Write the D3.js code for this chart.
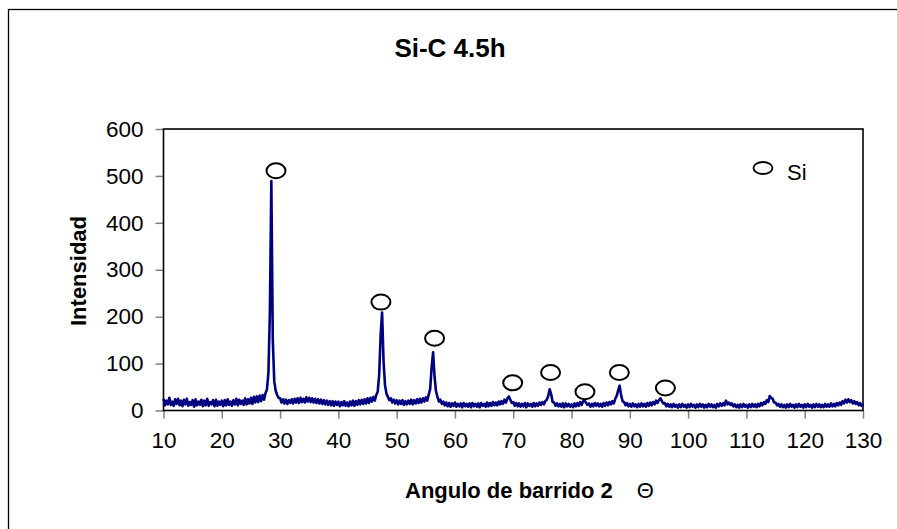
<!DOCTYPE html>
<html>
<head>
<meta charset="utf-8">
<script src="https://cdn.jsdelivr.net/npm/d3@7/dist/d3.min.js"></script>
<style>
  html, body { margin: 0; padding: 0; background: #fff; }
  svg { display: block; font-family: "Liberation Sans", Arial, Helvetica, sans-serif; }
</style>
</head>
<body>
<svg id="chart" width="897" height="529"></svg>
<script>
// XRD pattern, Si-C milled 4.5 h: intensity sampled every 0.25 deg from 10 to 130 deg (2θ)
const angleStart = 10;
const angleStep = 0.25;
const intensity = [
  25, 11, 21, 13,  27, 12, 19, 10,  24, 14, 25, 11,  21, 9, 23, 13,   // 10-13
  25, 10, 18, 12,  22, 8, 24, 11,   19, 12, 23, 9,   21, 11, 25, 10,  // 14-17
  18, 13, 22, 9,   23, 10, 19, 12,  21, 9, 22, 11,   24, 12, 19, 10,  // 18-21
  22, 13, 25, 11,  23, 14, 21, 12,  26, 13, 24, 15,  27, 14, 29, 17,  // 22-25
  30, 18, 32, 20,  33, 23, 37, 45,  80, 210, 489, 150, 62, 42, 33, 27, // 26-29
  26, 17, 24, 15,  23, 14, 22, 16,  24, 15, 25, 17,  26, 16, 27, 18,  // 30-33
  25, 17, 28, 19,  27, 18, 26, 17,  25, 16, 24, 15,  23, 14, 22, 13,  // 34-37
  21, 12, 20, 11,  20, 10, 19, 12,  19, 9, 18, 11,   20, 10, 17, 9,   // 38-41
  19, 11, 21, 10,  20, 12, 22, 13,  23, 14, 24, 15,  26, 16, 27, 19,  // 42-45
  29, 21, 33, 40,  76, 160, 209, 105, 54, 36, 29, 22, 26, 17, 23, 15, // 46-49
  22, 13, 21, 14,  22, 12, 20, 13,  21, 14, 23, 13,  22, 15, 24, 16,  // 50-53
  25, 17, 26, 19,  28, 21, 34, 46,  92, 124, 72, 41, 29, 19, 23, 14,  // 54-57
  19, 11, 17, 9,   16, 8, 15, 10,   17, 8, 14, 9,    15, 7, 16, 9,    // 58-61
  14, 8, 15, 7,    16, 9, 14, 8,    15, 7, 16, 10,   14, 8, 17, 9,    // 62-65
  16, 10, 18, 11,  17, 11, 19, 13,  20, 14, 23, 17,  26, 30, 23, 16,  // 66-69
  18, 10, 16, 9,   15, 8, 14, 9,    16, 7, 15, 10,   14, 8, 16, 9,    // 70-73
  15, 10, 17, 12,  18, 13, 20, 23,  31, 45, 35, 18,  17, 10, 15, 9,   // 74-77
  14, 8, 15, 7,    15, 9, 14, 8,    13, 7, 15, 9,    16, 10, 18, 12,  // 78-81
  20, 21, 16, 12,  15, 8, 14, 9,    16, 10, 15, 9,   14, 8, 16, 10,   // 82-85
  17, 11, 18, 13,  20, 15, 25, 31,  43, 53, 33, 20,  18, 11, 16, 9,   // 86-89
  14, 8, 15, 9,    13, 7, 14, 8,    15, 9, 14, 8,    16, 10, 17, 11,  // 90-93
  18, 13, 21, 16,  22, 26, 20, 15,  16, 9, 14, 8,    13, 7, 14, 8,    // 94-97
  12, 6, 13, 7,    14, 8, 12, 6,    13, 7, 14, 8,    12, 6, 13, 7,    // 98-101
  14, 8, 13, 6,    12, 7, 14, 8,    13, 7, 12, 6,    14, 9, 15, 10,   // 102-105
  16, 11, 21, 13,  17, 12, 15, 9,   13, 7, 12, 6,    13, 7, 14, 8,    // 106-109
  12, 6, 13, 7,    14, 8, 13, 7,    14, 9, 16, 11,   18, 14, 22, 18,  // 110-113
  31, 26, 25, 17,  17, 11, 14, 8,   13, 7, 12, 6,    13, 7, 14, 8,    // 114-117
  12, 6, 13, 7,    14, 8, 12, 6,    13, 7, 14, 8,    12, 6, 13, 7,    // 118-121
  14, 8, 13, 7,    12, 7, 14, 8,    13, 8, 15, 9,    14, 9, 16, 11,   // 122-125
  17, 12, 20, 15,  23, 17, 24, 18,  22, 15, 20, 14,  18, 11, 16, 10,  // 126-129
  14                                                                   // 130
];

// Si reflections marked on the pattern
const siAngles = [29.3, 47.3, 56.5, 69.9, 76.4, 82.3, 88.2, 96.1];
const siLevels = [511, 231, 154, 59, 81, 40, 81, 48];

// Axis ticks
const xTicks = [10, 20, 30, 40, 50, 60, 70, 80, 90, 100, 110, 120, 130];
const yTicks = [0, 100, 200, 300, 400, 500, 600];

const title = "Si-C 4.5h";
const xTitle = "Angulo de barrido 2";
const xTitleSymbol = "Θ";
const yTitle = "Intensidad";
const legendLabel = "Si";

const svg = d3.select("#chart");
const W = 897, H = 529;
const plot = { left: 163.5, right: 863, top: 129, bottom: 410.5 };

const x = d3.scaleLinear().domain([10, 130]).range([plot.left, plot.right]);
const y = d3.scaleLinear().domain([0, 600]).range([plot.bottom, plot.top]);

// outer chart frame (runs off the right and bottom edges)
svg.append("rect")
  .attr("x", 8.5).attr("y", 9.5)
  .attr("width", W + 20).attr("height", H + 20)
  .attr("fill", "#fff").attr("stroke", "#000").attr("stroke-width", 1.3);

// title
svg.append("text")
  .attr("x", 450).attr("y", 57)
  .attr("text-anchor", "middle")
  .attr("font-size", 26).attr("font-weight", "bold")
  .text(title);

// axes
const xAxis = d3.axisBottom(x).tickValues(xTicks).tickSize(8).tickPadding(14).tickFormat(d3.format("d"));
const yAxis = d3.axisLeft(y).tickValues(yTicks).tickSize(8).tickPadding(12).tickFormat(d3.format("d"));

const gx = svg.append("g").attr("transform", `translate(0,${plot.bottom})`).call(xAxis);
const gy = svg.append("g").attr("transform", `translate(${plot.left},0)`).call(yAxis);
[gx, gy].forEach(g => {
  g.select(".domain").remove();
  g.selectAll(".tick line").attr("stroke", "#808080").attr("stroke-width", 1.5);
  g.selectAll(".tick text")
    .attr("font-size", 22.5)
    .attr("font-family", "\"Liberation Sans\", Arial, sans-serif")
    .attr("fill", "#000");
});

// plot-area border
svg.append("rect")
  .attr("x", plot.left).attr("y", plot.top)
  .attr("width", plot.right - plot.left).attr("height", plot.bottom - plot.top)
  .attr("fill", "none").attr("stroke", "#000").attr("stroke-width", 1.6);

// diffraction pattern
const pattern = intensity.map((v, i) => ({ angle: angleStart + i * angleStep, value: v }));
const line = d3.line().x(d => x(d.angle)).y(d => y(d.value));
svg.append("path")
  .datum(pattern)
  .attr("d", line)
  .attr("fill", "none")
  .attr("stroke", "#000080")
  .attr("stroke-width", 2.6)
  .attr("stroke-linejoin", "round");

// Si peak markers
const siPoints = siAngles.map((a, i) => ({ angle: a, value: siLevels[i] }));
svg.append("g").selectAll("ellipse")
  .data(siPoints)
  .enter().append("ellipse")
  .attr("cx", d => x(d.angle)).attr("cy", d => y(d.value))
  .attr("rx", 9.5).attr("ry", 7.5)
  .attr("fill", "#fff").attr("stroke", "#000").attr("stroke-width", 2);

// legend
const legendX = plot.left + (plot.right - plot.left) * 0.857;
const legendY = plot.top + 39;
svg.append("ellipse")
  .attr("cx", legendX).attr("cy", legendY)
  .attr("rx", 9.5).attr("ry", 6)
  .attr("fill", "#fff").attr("stroke", "#000").attr("stroke-width", 1.8);
svg.append("text")
  .attr("x", legendX + 24).attr("y", legendY + 12)
  .attr("font-size", 22)
  .text(legendLabel);

// axis titles
const xt = svg.append("text")
  .attr("x", 405).attr("y", 498)
  .attr("font-size", 22).attr("font-weight", "bold");
xt.append("tspan").text(xTitle);
xt.append("tspan").attr("dx", 24).attr("font-weight", "normal").text(xTitleSymbol);

svg.append("text")
  .attr("transform", `translate(86,271) rotate(-90)`)
  .attr("text-anchor", "middle")
  .attr("font-size", 22).attr("font-weight", "bold")
  .text(yTitle);
</script>
</body>
</html>
